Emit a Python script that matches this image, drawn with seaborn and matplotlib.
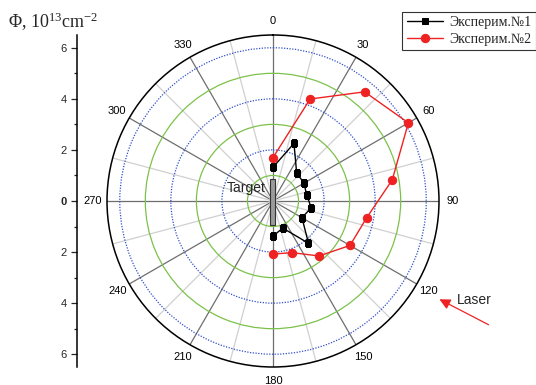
import matplotlib
matplotlib.use("Agg")
import matplotlib.pyplot as plt
import matplotlib.patches as mpatches
import numpy as np
import pandas as pd
import seaborn as sns

# angles in degrees (0 = top, clockwise), fluence in 10^13 cm^-2
angles = [0, 20, 40, 60, 80, 100, 120, 140, 160, 180]
exp1 = [1.32, 2.40, 1.44, 1.40, 1.34, 1.52, 1.31, 2.16, 1.13, 1.37]
exp2 = [1.70, 4.25, 5.58, 6.12, 4.74, 3.73, 3.48, 2.81, 2.15, 2.08]
labels = ["Эксперим.№1", "Эксперим.№2"]
left_ticks = [-6, -4, -2, 0, 2, 4, 6]

sns.set_style("white")
plt.rcParams['font.family'] = ['Liberation Sans', 'DejaVu Sans']
plt.rcParams['mathtext.fontset'] = 'custom'
plt.rcParams['mathtext.rm'] = 'Liberation Serif'

W, H = 536, 385
fig = plt.figure(figsize=(W / 100, H / 100), dpi=100)

cx, cy, R = 273, 201, 166
ax = fig.add_axes([(cx - R) / W, (H - cy - R) / H, 2 * R / W, 2 * R / H], projection='polar')
ax.set_theta_zero_location('N')
ax.set_theta_direction(-1)
ax.set_ylim(0, 6.5)

# radial grid: green solid at odd, blue dotted at even
ax.set_yticks([1, 2, 3, 4, 5, 6])
ax.set_yticklabels([])
for i, gl in enumerate(ax.yaxis.get_gridlines()):
    if i % 2 == 0:
        gl.set_color('#7cc24a'); gl.set_linestyle('-'); gl.set_linewidth(0.9)
    else:
        gl.set_color('#3050c8'); gl.set_linestyle((0, (1, 1.2))); gl.set_linewidth(0.9)

# angular grid: major every 30 deg (dark), minor in between (light)
major = np.arange(0, 360, 30)
minor = np.arange(15, 360, 30)
ax.set_xticks(np.deg2rad(major))
ax.set_xticklabels([str(t) for t in major], fontsize=8)
ax.set_xticks(np.deg2rad(minor), minor=True)
ax.xaxis.grid(True, which='major', color='#6e6e6e', linestyle='-', linewidth=0.9)
ax.xaxis.grid(True, which='minor', color='#d0d0d0', linestyle='-', linewidth=0.9)
ax.yaxis.grid(True)
ax.tick_params(axis='x', which='major', direction='in', length=6, width=0.9, pad=3, colors='black')
ax.tick_params(axis='x', which='minor', direction='in', length=4, width=0.9, colors='black')
ax.spines['polar'].set_color('black')
ax.spines['polar'].set_linewidth(1.1)
ax.set_facecolor('white')

df = pd.DataFrame({'theta': np.deg2rad(angles), 'e1': exp1, 'e2': exp2})
sns.lineplot(data=df, x='theta', y='e1', ax=ax, sort=False, color='black', marker='s',
             markersize=5, markeredgecolor='black', linewidth=1, label=labels[0], legend=False)
sns.lineplot(data=df, x='theta', y='e2', ax=ax, sort=False, color='#ee2222', marker='o',
             markersize=6, markeredgecolor='#ee2222', linewidth=1, label=labels[1], legend=False)
ax.set_xlabel(''); ax.set_ylabel('')

# target at centre
fig.patches.append(mpatches.Rectangle((270 / W, 1 - 225 / H), 5 / W, 46 / H, transform=fig.transFigure,
                                      facecolor='#9a9a9a', edgecolor='#333333', linewidth=0.8, zorder=5))
fig.text(266 / W, 1 - 188 / H, 'Target', ha='right', va='center', fontsize=10)

# laser arrow
fig.text(457 / W, 1 - 300 / H, 'Laser', ha='left', va='center', fontsize=10)
ax.annotate('', xy=(437 / W, 1 - 298 / H), xytext=(491 / W, 1 - 326 / H),
            xycoords='figure fraction', textcoords='figure fraction',
            arrowprops=dict(arrowstyle='-|>', color='#ee2222', lw=0.9, mutation_scale=16))

# left linear scale
lax = fig.add_axes([77 / W, (H - cy - R) / H, 0.001, 2 * R / H])
lax.set_ylim(-6.5, 6.5)
lax.set_xticks([])
for s in ['top', 'right', 'bottom']:
    lax.spines[s].set_visible(False)
lax.spines['left'].set_linewidth(1.1)
lax.spines['left'].set_color('black')
lax.set_yticks(left_ticks)
lax.set_yticklabels([str(abs(t)) for t in left_ticks], fontsize=8)
lax.set_yticks([-5, -3, -1, 1, 3, 5], minor=True)
lax.tick_params(axis='y', which='major', direction='out', length=4, width=0.9, left=True)
lax.tick_params(axis='y', which='minor', direction='out', length=2.5, width=0.9, left=True)
for t in lax.get_yticklabels():
    if t.get_text() == '0':
        t.set_fontweight('bold')
lax.set_facecolor('none')

fig.text(8 / W, 1 - 28 / H, r'Φ, $\mathregular{10^{13}}$cm$\mathregular{^{-2}}$', ha='left',
         va='baseline', fontsize=13, family='Liberation Serif')

leg = fig.legend(loc='upper right', bbox_to_anchor=(536 / W, 1 - 12 / H), frameon=True, fancybox=False,
                 prop={'family': 'Liberation Serif', 'size': 10}, handlelength=2.6, numpoints=1,
                 borderpad=0.3, labelspacing=0.25, handletextpad=0.5, borderaxespad=0)
leg.get_frame().set_edgecolor('black')
leg.get_frame().set_linewidth(0.8)

fig.savefig('out.png', dpi=100)
